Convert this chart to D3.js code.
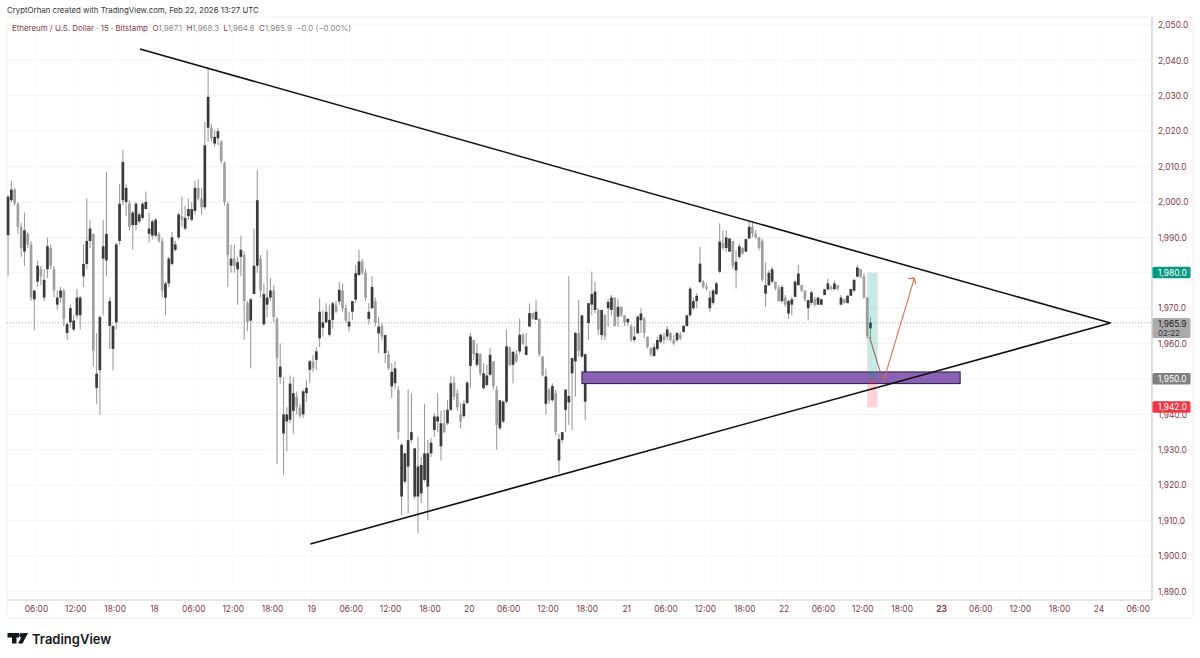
<!DOCTYPE html>
<html>
<head>
<meta charset="utf-8">
<script src="https://cdn.jsdelivr.net/npm/d3@7"></script>
<style>
  html, body { margin: 0; padding: 0; background: #fff; }
  text { font-family: Inter, "Noto Sans", sans-serif; }
</style>
</head>
<body>
<div id="chart"></div>
<script>
// half-hour candles, one list per day: [open, high, low, close]
const feb17 = [
  [1990.6,2002,1979,2001.5],[2000.5,2006,2000,2003.5],[2003.5,2004,1999,1999.6],[1999.5,2000,1991,1993],
  [1993,1994,1984.5,1987],[1986,1997,1982,1992],[1991,1991.5,1987,1988],[1988,1989,1972,1973],
  [1972.5,1975,1963.8,1975],[1977.5,1983.5,1976,1982],[1981,1982,1976.5,1979],[1973,1981,1972,1978],
  [1981,1990,1978.5,1987.5],[1987,1988,1981,1982],[1981,1982,1973,1975],[1971,1975,1969.5,1973],
  [1973,1976,1971.5,1975],[1975,1975.5,1965,1967],[1963,1966,1961,1965.5],[1966,1971,1964.5,1970],
  [1964,1968,1963.5,1966.5],[1968,1975.5,1967,1973],[1968,1973.5,1964,1973],[1979,1988,1976,1982.5],
  [1982.5,2001,1981,1989],[1989,1995,1987,1992.5],[1991,1991,1953.5,1958],[1947.5,1963,1943,1951.5],
  [1952.5,1968,1940,1967.5],[1984,1995,1968,1987.5],[1983.5,2008.5,1979,1991],[1965,1973,1958.5,1972],
  [1958.5,1965,1952.5,1965],[1966,1988.5,1964,1988],[1989,2005,1988,1999.5],[2000.5,2014.6,1999,2011.3],
  [2000,2005,1996,2004],[1999.6,2000.5,1992,1993],[1993.5,1997.5,1986.5,1997],[1993.5,2000,1992,1999.5],
  [1994.5,1997,1994,1996.5],[1995.5,2000,1995,1999.5],[1998,2003,1998,2000],[1991,1997,1988.5,1992.5],
  [1990.5,1995,1989.5,1994.5]
];
const feb18 = [
  [1990.5,1995.5,1990,1995],[1991,1991.5,1988.5,1989],[1989,1990,1973,1975],[1973,1977.5,1968,1977],
  [1977,1984.5,1976,1984],[1982.5,1991.5,1982,1990],[1986.5,1989,1986,1988],[1990,1997,1989.5,1996.5],
  [1996,2001.5,1993,1995],[1992.5,1999,1992,1995.5],[1996,2001,1995,1998],[1995,2000,1994.5,1998],
  [1997.5,2006,1996.5,2004],[2004,2006.5,2000.5,2001],[2001,2004,1996.5,1998.5],[1998.5,2022.6,1998,2016],
  [2021,2037.7,2017,2029.7],[2021,2022,2017,2018],[2016.5,2020.3,2015.6,2018.4],[2018,2021,2016,2020],
  [2017,2017.5,2010.9,2011.5],[2011,2011.5,1999,2000],[1999.5,2000,1976,1985],[1982,1988,1980,1984],
  [1984,1988,1980,1982],[1981,1984.5,1971,1983],[1984.5,1990.5,1979,1986.5],[1985,1986,1961,1972],
  [1971.5,1972,1963.5,1966],[1966.5,1973,1953,1972.5],[1974,1992.5,1974,1982],[1982,2009,1980,2000.5],
  [1984,1985,1973,1975],[1965.5,1977,1965,1974],[1971,1986.5,1967.5,1973],[1973,1978.5,1972,1975],
  [1975,1976.5,1966,1967.5],[1967,1967.5,1926,1956],[1950.5,1960,1948.7,1953.5],[1934.6,1950.5,1923,1940],
  [1938,1942,1929.5,1940],[1938.5,1951,1937.5,1948.7],[1941,1950.5,1934.5,1946],[1945,1946.5,1940,1942],
  [1942,1943,1939,1939.5],[1940,1947,1939,1946.5],[1946,1949.7,1943.6,1947.5],[1952.6,1955.4,1948.8,1955]
];
const feb19 = [
  [1955,1956.8,1952,1953],[1955.4,1959,1952.6,1957.8],[1961.5,1972.8,1959,1969],[1964.5,1969.5,1962,1966],
  [1966,1971.4,1965.8,1969],[1962.5,1971,1962,1966.7],[1966.7,1971.9,1964.3,1971.4],[1971,1972,1968.6,1969],
  [1971.9,1977.5,1971,1975.2],[1975,1977,1969,1970],[1970,1971,1965.8,1966.5],[1964.8,1969,1963.4,1966.2],
  [1969,1972,1966.7,1972],[1972.4,1982.2,1971.5,1979.9],[1979.4,1986.5,1979,1983.2],[1983.2,1984,1979.5,1980],
  [1980,1981,1972,1973],[1967,1971.4,1965.3,1969],[1970,1979,1969.8,1976],[1972,1973,1965,1966],
  [1962.9,1967.6,1957.3,1964.8],[1965,1965.8,1961,1962],[1957.3,1962.5,1954.5,1962.4],[1957,1958,1952.5,1953],
  [1947.9,1954.5,1944.6,1952],[1948.8,1955,1947,1953],[1947,1948,1933,1935],[1916.8,1932,1911.6,1931.4],
  [1921,1929,1920.5,1929],[1925.3,1947,1912,1932.8],[1932.8,1946,1932,1935],[1916.8,1930.5,1916,1930.4],
  [1916.8,1933.7,1906.4,1925.3],[1917.7,1928,1915,1925.7],[1921.5,1943,1921,1929],[1919.6,1932.8,1910.2,1929],
  [1929,1933.3,1928,1932],[1935.6,1940.3,1933.7,1939.4],[1938,1946,1935,1939.4],[1931,1941,1927,1937.5],
  [1937.5,1941.3,1934.7,1935],[1937.5,1944,1937,1941.3],[1941.3,1951,1941,1948.8],[1949,1950.7,1944,1945],
  [1946,1947,1941,1942],[1940,1943.2,1936,1938],[1939.5,1944,1939,1943],[1943.2,1949.3,1943,1949]
];
const feb20 = [
  [1953.7,1963,1947.5,1962],[1961,1961,1955.4,1957],[1954,1960,1953.5,1957.3],[1957,1957.3,1950.7,1951.5],
  [1947.4,1954.5,1947,1951.6],[1948.3,1954,1947.8,1951],[1951.2,1958.7,1950.7,1956.8],[1955,1955,1947,1948],
  [1947,1948,1930,1937],[1936.1,1944,1935.6,1944],[1938,1944,1937.5,1943.6],[1943.6,1963.9,1943,1959.2],
  [1959,1959.2,1953.5,1954],[1954,1957.8,1948.8,1957.7],[1957,1958.2,1954.5,1955],[1957.8,1967,1957,1962.5],
  [1962.5,1963,1959.6,1960],[1956.8,1963,1956.8,1959.2],[1964.8,1971.4,1964.8,1968.6],[1968.6,1968.6,1966.7,1967],
  [1966.7,1972.4,1966.7,1969],[1967,1967,1956.3,1957],[1956.3,1956.5,1950.7,1951],[1943,1953,1940,1950.7],
  [1947,1947.5,1943,1944],[1944,1948.8,1943.5,1948],[1946,1947,1934,1935],[1927,1934.5,1923.4,1933],
  [1932.8,1935,1932,1935],[1941.3,1947,1935,1947],[1943.4,1979,1937,1945.2],[1951.6,1956,1935.6,1955.9],
  [1955,1963.4,1945,1963],[1963,1972.3,1956.3,1958],[1956.3,1968.1,1956,1968],[1943.6,1957,1938.5,1957],
  [1965.8,1971.4,1961,1971.4],[1971,1980.4,1968,1974],[1969.5,1977.5,1968.6,1974.7],[1969.5,1970,1962.5,1964],
  [1962.4,1969.5,1961,1969.5],[1968,1968.5,1961,1962],[1970,1972.7,1964.7,1971.8],[1969.5,1973.7,1968,1973],
  [1973,1973,1964.7,1965],[1967.6,1972.7,1964.7,1970.4],[1970.4,1970.5,1967.5,1968],[1968,1968,1965,1966]
];
const feb21 = [
  [1966,1967,1965,1967],[1965,1965.5,1960.5,1961],[1961,1965,1960.3,1962],[1962.9,1968,1962.9,1967.6],
  [1966.6,1970,1963,1968.5],[1967,1967.5,1961.5,1963],[1961.9,1962,1958.6,1959],[1958.7,1959,1956.3,1957],
  [1956.5,1960,1956.3,1959],[1958.5,1961.9,1958,1961],[1960.5,1962.9,1960,1962.5],[1962,1963,1960,1961],
  [1962,1965,1961,1964],[1963,1963.2,1960.5,1961],[1961,1962.5,1959.5,1960],[1961,1963.3,1960.5,1963],
  [1962.5,1963.3,1961,1961.5],[1963.3,1965.2,1963,1965],[1965,1968,1964.7,1968],[1968,1976,1967.5,1975.5],
  [1970,1973,1969.5,1972],[1972,1974.2,1970,1973.5],[1977.4,1987.3,1977,1982.6],[1977.5,1978,1975.6,1976],
  [1976,1977,1975,1975.5],[1970,1975,1969,1973],[1971.5,1975.5,1971,1975],[1974,1977.5,1973.7,1977],
  [1980.3,1994,1979.8,1988.8],[1988.5,1992,1986.4,1987],[1987,1992,1985.9,1990],[1986,1989.7,1985.9,1989.7],
  [1989,1989,1981,1982],[1980.7,1986.4,1975.6,1983.1],[1984.5,1988.3,1984,1987.5],[1987,1987.3,1985,1985.5],
  [1986,1989.7,1985.9,1989.5],[1989.7,1994.4,1989.5,1993],[1993,1994.5,1990,1991],[1991,1992,1989.7,1990],
  [1990,1990.2,1986.4,1987],[1989,1989.7,1977.5,1978],[1974.1,1983,1970.4,1976.5],[1976.5,1980.7,1976.3,1980],
  [1977.5,1981.7,1977,1981],[1977.5,1977.5,1975,1975.5],[1975.5,1976.5,1971.8,1972],[1972,1976.5,1971.3,1976]
];
const feb22 = [
  [1973,1973.7,1970.4,1971],[1968.5,1972.3,1967,1972],[1971,1973.2,1968,1972.5],[1973.2,1977.9,1973.2,1977.5],
  [1976.5,1982.2,1976.5,1979.8],[1976.5,1976.5,1974.6,1975],[1975,1975.1,1971.8,1972.5],[1970,1972.3,1966.6,1972.3],
  [1971.5,1975,1970.8,1974.5],[1972.5,1973.2,1970.4,1971],[1971,1973.2,1970.8,1973],[1971,1972.7,1970.8,1972.5],
  [1973.7,1975.5,1973.7,1975.3],[1975.3,1978.4,1975,1977],[1976,1976.5,1975,1975.5],[1975.4,1977.9,1975,1977],
  [1976.5,1976.5,1975,1975.5],[1971,1973.7,1970.8,1973],[1972.5,1972.7,1971.3,1971.5],[1971.5,1973.7,1971.3,1973.5],
  [1973.5,1975.5,1973.5,1975.4],[1975,1978.4,1974.6,1978],[1978.9,1982.2,1978.9,1981.5],[1981,1981.2,1978.4,1979],
  [1979,1979.8,1972.7,1973],[1973,1973.2,1961.4,1962],[1964.3,1967.6,1961.4,1965.9]
];
const dayStarts = ["2026-02-17T01:30Z","2026-02-18T00:00Z","2026-02-19T00:00Z","2026-02-20T00:00Z","2026-02-21T00:00Z","2026-02-22T00:00Z"];
const dayCandles = [feb17, feb18, feb19, feb20, feb21, feb22];

const priceTicks = [1890,1900,1910,1920,1930,1940,1950,1960,1970,1980,1990,2000,2010,2020,2030,2040,2050];
const timeTicks = [
  "2026-02-17T06:00Z","2026-02-17T12:00Z","2026-02-17T18:00Z","2026-02-18T00:00Z",
  "2026-02-18T06:00Z","2026-02-18T12:00Z","2026-02-18T18:00Z","2026-02-19T00:00Z",
  "2026-02-19T06:00Z","2026-02-19T12:00Z","2026-02-19T18:00Z","2026-02-20T00:00Z",
  "2026-02-20T06:00Z","2026-02-20T12:00Z","2026-02-20T18:00Z","2026-02-21T00:00Z",
  "2026-02-21T06:00Z","2026-02-21T12:00Z","2026-02-21T18:00Z","2026-02-22T00:00Z",
  "2026-02-22T06:00Z","2026-02-22T12:00Z","2026-02-22T18:00Z","2026-02-23T00:00Z",
  "2026-02-23T06:00Z","2026-02-23T12:00Z","2026-02-23T18:00Z","2026-02-24T00:00Z",
  "2026-02-24T06:00Z"
].map(d => new Date(d));

// drawings, as [time, price]
const upperTrend = [["2026-02-17T21:52Z",2043.2],["2026-02-24T01:50Z",1965.8]];
const lowerTrend = [["2026-02-18T23:50Z",1903.4],["2026-02-24T01:50Z",1965.8]];
const zoneTimes = ["2026-02-20T17:15Z","2026-02-23T02:55Z"];
const zonePrices = [1952,1948.7];
const positionTimes = ["2026-02-22T12:45Z","2026-02-22T14:20Z"];
const positionPrices = { target: 1980, entry: 1950, stop: 1942 };
const forecast = [["2026-02-22T13:05Z",1961.9],["2026-02-22T15:12Z",1949.2],["2026-02-22T19:56Z",1978.5]];
const lastPrice = 1965.9;

const WIDTH = 1200, HEIGHT = 658;
const plot = { left: 7, right: 1152, top: 17, bottom: 600 };
const maroon = "#7f3a47";
const axisFont = 8.4;

const x = d3.scaleUtc()
    .domain([new Date("2026-02-18T00:00Z"), new Date("2026-02-23T00:00Z")])
    .range([154, 941]);
const y = d3.scaleLinear().domain([1890, 2050]).range([591.4, 25]);

const svg = d3.select("#chart").append("svg")
    .attr("width", WIDTH)
    .attr("height", HEIGHT)
    .style("display", "block");

function drawFrame() {
    svg.append("rect")
        .attr("x", plot.left).attr("y", plot.top)
        .attr("width", 1193 - plot.left).attr("height", 618 - plot.top)
        .attr("rx", 3)
        .attr("fill", "#fff").attr("stroke", "#efefef");

    // price axis, ticks used as the horizontal grid too
    const yAxis = d3.axisRight(y)
        .tickValues(priceTicks)
        .tickSize(0)
        .tickFormat(d3.format(",.1f"));
    const gy = svg.append("g")
        .attr("transform", `translate(${plot.right},0)`)
        .call(yAxis);
    gy.select(".domain").remove();
    gy.selectAll("text").attr("x", 6).attr("fill", maroon).attr("font-size", axisFont);

    svg.append("g").selectAll("line").data(priceTicks).enter().append("line")
        .attr("x1", plot.left).attr("x2", plot.right)
        .attr("y1", d => y(d)).attr("y2", d => y(d))
        .attr("stroke", "#f3f3f3");
    svg.append("g").selectAll("line").data(timeTicks).enter().append("line")
        .attr("x1", d => x(d)).attr("x2", d => x(d))
        .attr("y1", plot.top).attr("y2", plot.bottom)
        .attr("stroke", "#fafafa");

    // time axis
    const xAxis = d3.axisBottom(x)
        .tickValues(timeTicks)
        .tickSize(0)
        .tickFormat(d => d.getUTCHours() === 0 ? String(d.getUTCDate()) : d3.utcFormat("%H:%M")(d));
    const gx = svg.append("g")
        .attr("transform", `translate(0,${plot.bottom})`)
        .call(xAxis);
    gx.select(".domain").remove();
    gx.selectAll("text")
        .attr("y", 6.5).attr("dy", "0.71em")
        .attr("fill", maroon).attr("font-size", axisFont)
        .attr("font-weight", d => d.getUTCDate() === 23 && d.getUTCHours() === 0 ? 700 : 400);

    svg.append("line")
        .attr("x1", plot.left).attr("x2", plot.right)
        .attr("y1", plot.bottom).attr("y2", plot.bottom)
        .attr("stroke", "#c9c9c9").attr("stroke-width", 1.2);
    svg.append("line")
        .attr("x1", plot.right).attr("x2", plot.right)
        .attr("y1", plot.top).attr("y2", plot.bottom)
        .attr("stroke", "#c9c9c9").attr("stroke-width", 1.2);
}

function drawCandles() {
    const candles = [];
    dayCandles.forEach((rows, k) => {
        const start = +new Date(dayStarts[k]);
        rows.forEach((r, i) => candles.push({
            time: new Date(start + (i + 0.5) * 18e5),
            open: r[0], high: r[1], low: r[2], close: r[3]
        }));
    });

    svg.append("line")
        .attr("x1", plot.left).attr("x2", plot.right)
        .attr("y1", y(lastPrice)).attr("y2", y(lastPrice))
        .attr("stroke", "#a9a9a9").attr("stroke-dasharray", "1 2");

    const g = svg.append("g").style("filter", "blur(0.3px)");
    g.selectAll("line").data(candles).enter().append("line")
        .attr("x1", d => x(d.time)).attr("x2", d => x(d.time))
        .attr("y1", d => y(d.high)).attr("y2", d => y(d.low))
        .attr("stroke", "#9c9c9c").attr("stroke-width", 1.1);
    g.selectAll("rect").data(candles).enter().append("rect")
        .attr("x", d => x(d.time) - 1.35)
        .attr("width", 2.7)
        .attr("y", d => y(Math.max(d.open, d.close)))
        .attr("height", d => Math.max(0.8, Math.abs(y(d.open) - y(d.close))))
        .attr("fill", d => d.close >= d.open ? "#3a3a3a" : "#a0a0a0");
}

function drawDrawings() {
    const t = s => x(new Date(s));

    // demand zone
    svg.append("rect")
        .attr("x", t(zoneTimes[0])).attr("width", t(zoneTimes[1]) - t(zoneTimes[0]))
        .attr("y", y(zonePrices[0])).attr("height", y(zonePrices[1]) - y(zonePrices[0]))
        .attr("fill", "#8a61b4").attr("stroke", "#2a1a45").attr("stroke-width", 1);

    // long position tool
    const px = t(positionTimes[0]), pw = t(positionTimes[1]) - px;
    svg.append("rect")
        .attr("x", px).attr("width", pw)
        .attr("y", y(positionPrices.target)).attr("height", y(positionPrices.entry) - y(positionPrices.target))
        .attr("fill", "#089981").attr("fill-opacity", 0.22);
    svg.append("rect")
        .attr("x", px).attr("width", pw)
        .attr("y", y(positionPrices.entry)).attr("height", y(positionPrices.stop) - y(positionPrices.entry))
        .attr("fill", "#f23645").attr("fill-opacity", 0.22);

    // trend lines
    const line = d3.line().x(d => t(d[0])).y(d => y(d[1]));
    [upperTrend, lowerTrend].forEach(seg => {
        svg.append("path")
            .attr("d", line(seg))
            .attr("fill", "none").attr("stroke", "#111").attr("stroke-width", 1.6);
    });

    // forecast path and arrow head
    svg.append("path")
        .attr("d", line(forecast.slice(0, 2)))
        .attr("fill", "none").attr("stroke", "#8f6a58").attr("stroke-width", 1.1);
    svg.append("path")
        .attr("d", line(forecast.slice(1)))
        .attr("fill", "none").attr("stroke", "#dc6a50").attr("stroke-width", 1.1);
    const tip = [t(forecast[2][0]), y(forecast[2][1])];
    svg.append("path")
        .attr("d", `M${tip[0] - 6},${tip[1] + 0.5}L${tip[0]},${tip[1]}L${tip[0] + 1.5},${tip[1] + 6}`)
        .attr("fill", "none").attr("stroke", "#dc6a50").attr("stroke-width", 1.1);
}

function priceBadge(price, fill, color) {
    const cy = y(price);
    svg.append("rect")
        .attr("x", plot.right + 0.5).attr("y", cy - 6).attr("width", 38).attr("height", 11.5)
        .attr("rx", 1.5).attr("fill", fill);
    svg.append("text")
        .attr("x", plot.right + 6).attr("y", cy + 3)
        .attr("font-size", axisFont).attr("fill", color)
        .text(d3.format(",.1f")(price));
}

function drawLabels() {
    priceBadge(positionPrices.target, "#089981", "#fff");
    priceBadge(positionPrices.entry, "#808080", "#fff");
    priceBadge(positionPrices.stop, "#f23645", "#fff");

    svg.append("rect")
        .attr("x", plot.right + 0.5).attr("y", 318).attr("width", 38).attr("height", 20)
        .attr("rx", 1.5).attr("fill", "#ababab");
    svg.append("text")
        .attr("x", plot.right + 6).attr("y", 326.5)
        .attr("font-size", axisFont).attr("fill", "#222")
        .text(d3.format(",.1f")(lastPrice));
    svg.append("text")
        .attr("x", plot.right + 6).attr("y", 335.5)
        .attr("font-size", 8).attr("fill", "#333")
        .text("02:22");

    svg.append("text")
        .attr("x", 7).attr("y", 13)
        .attr("font-size", 7.85).attr("fill", "#333")
        .text("CryptOrhan created with TradingView.com, Feb 22, 2026 13:27 UTC");

    const legend = svg.append("text").attr("x", 12).attr("y", 30.5).attr("font-size", 7.9);
    const parts = [
        ["Ethereum / U.S. Dollar · 15 · Bitstamp  ", maroon],
        ["O", maroon], ["1,967.1  ", "#8a8a8a"],
        ["H", maroon], ["1,968.3  ", "#8a8a8a"],
        ["L", maroon], ["1,964.6  ", "#8a8a8a"],
        ["C", maroon], ["1,965.9  ", "#8a8a8a"],
        ["−0.0 (−0.00%)", "#8a8a8a"]
    ];
    parts.forEach(p => legend.append("tspan").attr("fill", p[1]).attr("xml:space", "preserve").text(p[0]));
    legend.style("white-space", "pre");

    // TradingView mark
    const logo = svg.append("g").attr("fill", "#131722");
    logo.append("path").attr("d", "M7.5,633H19V637.5H16.5V643.5H12V637.5H7.5Z");
    logo.append("circle").attr("cx", 21.5).attr("cy", 635.2).attr("r", 2.2);
    logo.append("path").attr("d", "M23.5,633H28L22.5,643.5H18Z");
    svg.append("text")
        .attr("x", 32).attr("y", 643.5)
        .attr("font-size", 13).attr("font-weight", 600).attr("fill", "#131722")
        .text("TradingView");
}

drawFrame();
drawCandles();
drawDrawings();
drawLabels();
</script>
</body>
</html>
